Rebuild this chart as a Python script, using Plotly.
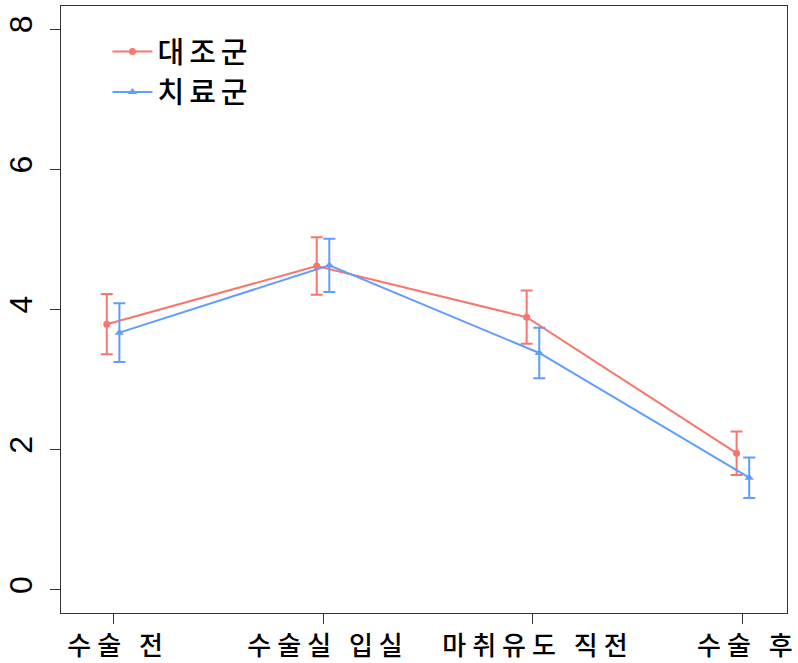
import plotly.graph_objects as go

categories = ["수술 전", "수술실 입실", "마취유도 직전", "수술 후"]
x_pos = [1, 2, 3, 4]
control_mean = [3.79, 4.62, 3.89, 1.95]
control_err = [0.43, 0.41, 0.38, 0.31]
treat_mean = [3.67, 4.63, 3.38, 1.60]
treat_err = [0.42, 0.38, 0.36, 0.29]
group_names = ["대조군", "치료군"]
dodge = 0.03

RED = "#F8766D"
BLUE = "#619CFF"


def spaced(s, px):
    return f'<span style="letter-spacing:{px}px">{s}</span>'


fig = go.Figure()
fig.add_trace(go.Scatter(
    x=[p - dodge for p in x_pos], y=control_mean, name=spaced(group_names[0], 5),
    mode="lines+markers",
    line=dict(color=RED, width=2),
    marker=dict(symbol="circle", size=7, color=RED),
    error_y=dict(type="data", array=control_err, color=RED, thickness=2, width=6),
))
fig.add_trace(go.Scatter(
    x=[p + dodge for p in x_pos], y=treat_mean, name=spaced(group_names[1], 5),
    mode="lines+markers",
    line=dict(color=BLUE, width=2),
    marker=dict(symbol="triangle-up", size=8, color=BLUE),
    error_y=dict(type="data", array=treat_err, color=BLUE, thickness=2, width=6),
))

font_family = "Noto Sans CJK KR, DejaVu Sans, sans-serif"
fig.update_layout(
    width=798, height=663,
    margin=dict(l=61, r=11, t=6, b=50),
    plot_bgcolor="white", paper_bgcolor="white",
    font=dict(family=font_family, color="black"),
    showlegend=True,
    legend=dict(x=0.064, y=0.967, xanchor="left", yanchor="top",
                font=dict(size=29, family=font_family, color="black", weight=500),
                bgcolor="rgba(0,0,0,0)", itemwidth=40),
    xaxis=dict(range=[0.752, 4.21], tickvals=x_pos,
               ticktext=[spaced(c, 6) for c in categories],
               automargin=False, ticklabeloverflow="allow", ticklabelshift=5,
               ticks="outside", ticklen=10, tickwidth=1, tickcolor="#333",
               showline=True, mirror=True, linecolor="#333", linewidth=1,
               showgrid=False, zeroline=False,
               tickfont=dict(size=26, family=font_family, color="black", weight=500)),
    yaxis=dict(range=[-0.33, 8.33], tickvals=[0, 2, 4, 6, 8],
               automargin=False, ticklabeloverflow="allow",
               ticks="outside", ticklen=10, tickwidth=1, tickcolor="#333",
               tickangle=-90, ticklabelstandoff=5,
               showline=True, mirror=True, linecolor="#333", linewidth=1,
               showgrid=False, zeroline=False,
               tickfont=dict(size=32, family="Liberation Sans, Arial, sans-serif", color="black")),
)

fig.write_html("out.html")
